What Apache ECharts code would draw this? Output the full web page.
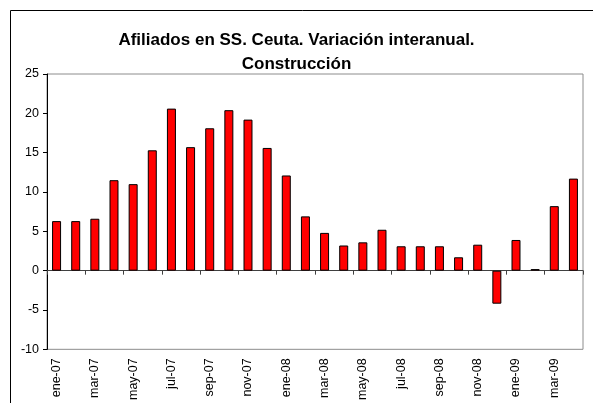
<!DOCTYPE html>
<html>
<head>
<meta charset="utf-8">
<script src="https://cdn.jsdelivr.net/npm/echarts@6/dist/echarts.min.js"></script>
<style>
  html, body { margin: 0; padding: 0; background: #fff; }
  #chart { width: 593px; height: 403px; }
</style>
</head>
<body>
<div id="chart"></div>
<script>
const MONTHS = ["ene","feb","mar","abr","may","jun","jul","ago","sep","oct","nov","dic"];
const YEARS = ["07","08","09"];
const categories = [];
YEARS.forEach(function (y) {
    MONTHS.forEach(function (m) { categories.push(m + "-" + y); });
});
categories.length = 28; // ene-07 .. abr-09

// variación interanual (%)
const values = [6.3, 6.3, 6.6, 11.5, 11.0, 15.3, 20.6, 15.7, 18.1, 20.4, 19.2, 15.6,
    12.1, 6.9, 4.8, 3.2, 3.6, 5.2, 3.1, 3.1, 3.1, 1.7, 3.3, -4.2,
    3.9, 0.2, 8.2, 11.7];

const TITLE = "Afiliados en SS. Ceuta. Variación interanual.\nConstrucción";
const FONT = "Liberation Sans, Arial, sans-serif";

const chart = echarts.init(document.getElementById('chart'));
chart.setOption({
    backgroundColor: '#fff',
    animation: false,
    title: {
        text: TITLE,
        left: 'center',
        top: 23,
        textStyle: { fontFamily: FONT, fontSize: 17, fontWeight: 'bold', color: '#000', lineHeight: 24 }
    },
    graphic: [{
        type: 'rect',
        shape: { x: 10.5, y: 10.5, width: 700, height: 500 },
        style: { fill: null, stroke: '#000', lineWidth: 1 },
        silent: true
    }],
    grid: {
        left: 47, right: 10, top: 74, bottom: 48,
        show: true, borderColor: '#8c8c8c', borderWidth: 1
    },
    xAxis: [{
        type: 'category',
        data: categories,
        axisLine: { onZero: true, lineStyle: { color: '#404040', width: 1 } },
        axisTick: { show: true, interval: 1, length: 4, lineStyle: { color: '#404040' } },
        axisLabel: { show: false },
        splitLine: { show: false }
    }, {
        type: 'category',
        data: categories,
        position: 'bottom',
        axisLine: { show: false, onZero: false },
        axisTick: { show: false },
        axisLabel: {
            interval: 1, rotate: 90, margin: 9,
            fontFamily: FONT, fontSize: 12.5, color: '#000'
        },
        splitLine: { show: false }
    }],
    yAxis: {
        type: 'value',
        min: -10, max: 25, interval: 5,
        axisLine: { show: true, lineStyle: { color: '#000', width: 1 } },
        axisTick: { show: true, length: 4, lineStyle: { color: '#000' } },
        axisLabel: { fontFamily: FONT, fontSize: 12.5, color: '#000', margin: 8 },
        splitLine: { show: false }
    },
    series: [{
        type: 'bar',
        xAxisIndex: 0,
        data: values,
        barWidth: '47%',
        itemStyle: { color: '#ff0000', borderColor: '#000', borderWidth: 1 }
    }]
});
</script>
</body>
</html>
